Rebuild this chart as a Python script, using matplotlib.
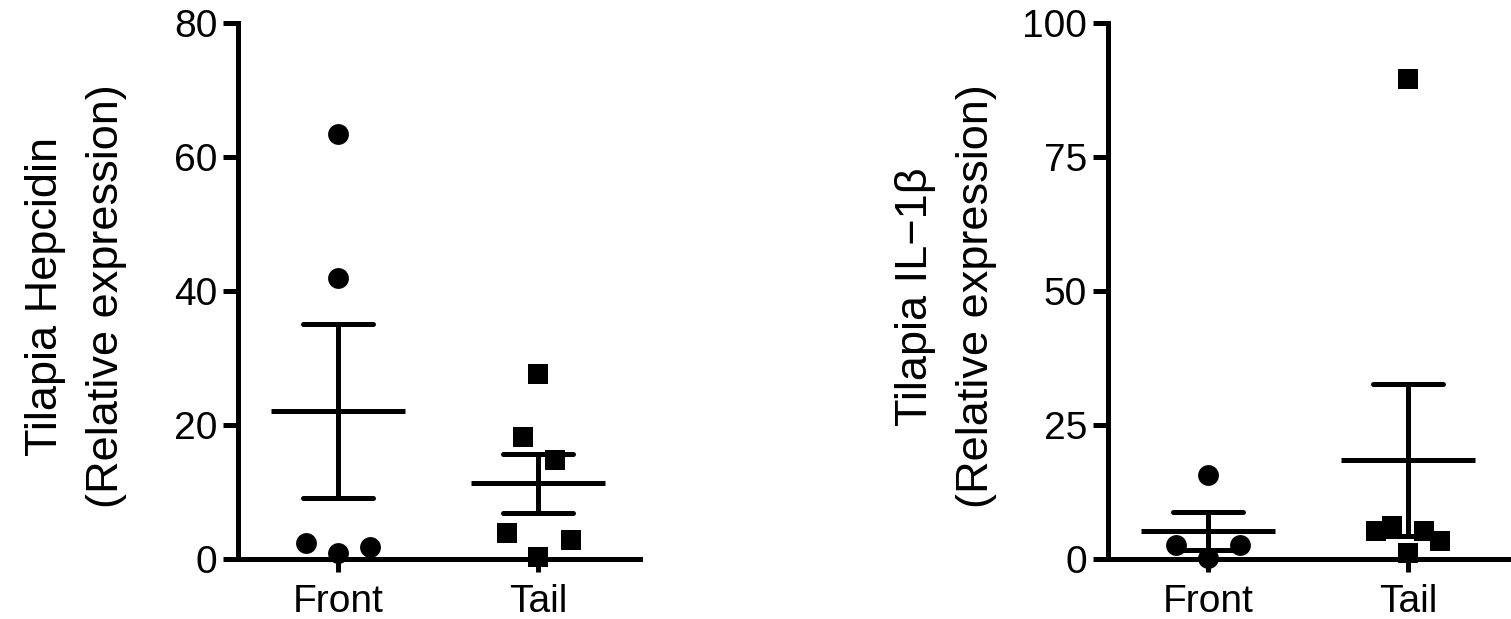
import numpy as np
import matplotlib
matplotlib.use("Agg")
import matplotlib.pyplot as plt

plt.rcParams['font.family'] = ['Liberation Sans', 'DejaVu Sans']

groups = ["Front", "Tail"]

# hepcidin values
hep_front = [63.5, 41.9, 2.4, 0.85, 1.8]
hep_front_dx = [0.0, 0.0, -0.16, 0.0, 0.16]
hep_tail = [27.65, 18.2, 14.8, 3.9, 2.84, 0.35]
hep_tail_dx = [0.0, -0.075, 0.085, -0.155, 0.165, 0.0]

# IL-1b values
il_front = [15.7, 2.56, 2.56, 0.1]
il_front_dx = [0.0, -0.158, 0.158, 0.0]
il_tail = [89.5, 6.2, 5.2, 5.2, 3.4, 1.2]
il_tail_dx = [0.0, -0.078, -0.16, 0.08, 0.16, 0.0]

hep_ticks = [0, 20, 40, 60, 80]
il_ticks = [0, 25, 50, 75, 100]

LW = 3.6


def panel(ax, data, offsets, ticks, ylabel):
    for i, (vals, dx, mk) in enumerate(zip(data, offsets, ['o', 's'])):
        x0 = i + 1
        vals = np.array(vals)
        ax.scatter(x0 + np.array(dx), vals, marker=mk, s=15 ** 2, color='black',
                   linewidths=0, clip_on=False, zorder=3)
        m = vals.mean()
        sem = vals.std(ddof=1) / np.sqrt(len(vals))
        ax.hlines(m, x0 - 0.335, x0 + 0.335, color='black', lw=LW, zorder=4)
        ax.vlines(x0, m - sem, m + sem, color='black', lw=LW, zorder=4)
        ax.hlines([m - sem, m + sem], x0 - 0.177, x0 + 0.177, color='black',
                  lw=LW, capstyle='round', zorder=4)
    ax.set_xlim(0.5, 2.51)
    ax.set_ylim(ticks[0], ticks[-1])
    ax.set_yticks(ticks)
    ax.set_xticks([1, 2])
    ax.set_xticklabels(groups)
    for s in ['top', 'right']:
        ax.spines[s].set_visible(False)
    for s in ['left', 'bottom']:
        ax.spines[s].set_linewidth(LW)
    ax.tick_params(axis='both', width=LW, length=11, labelsize=28, color='black')
    ax.tick_params(axis='x', length=9, pad=9)
    ax.tick_params(axis='y', pad=4)
    ax.set_ylabel(ylabel, fontsize=32.5, linespacing=1.65)
    ax.yaxis.set_label_coords(-0.275, 0.49)


fig = plt.figure(figsize=(15.11, 6.19), dpi=100)
ax1 = fig.add_axes([238 / 1511, 60 / 619, 402 / 1511, 536 / 619])
ax2 = fig.add_axes([1108 / 1511, 60 / 619, 402 / 1511, 536 / 619])

panel(ax1, [hep_front, hep_tail], [hep_front_dx, hep_tail_dx], hep_ticks,
      "Tilapia Hepcidin\n(Relative expression)")
panel(ax2, [il_front, il_tail], [il_front_dx, il_tail_dx], il_ticks,
      "Tilapia IL\u22121\u03b2\n(Relative expression)")

fig.savefig("out.png", dpi=100)
